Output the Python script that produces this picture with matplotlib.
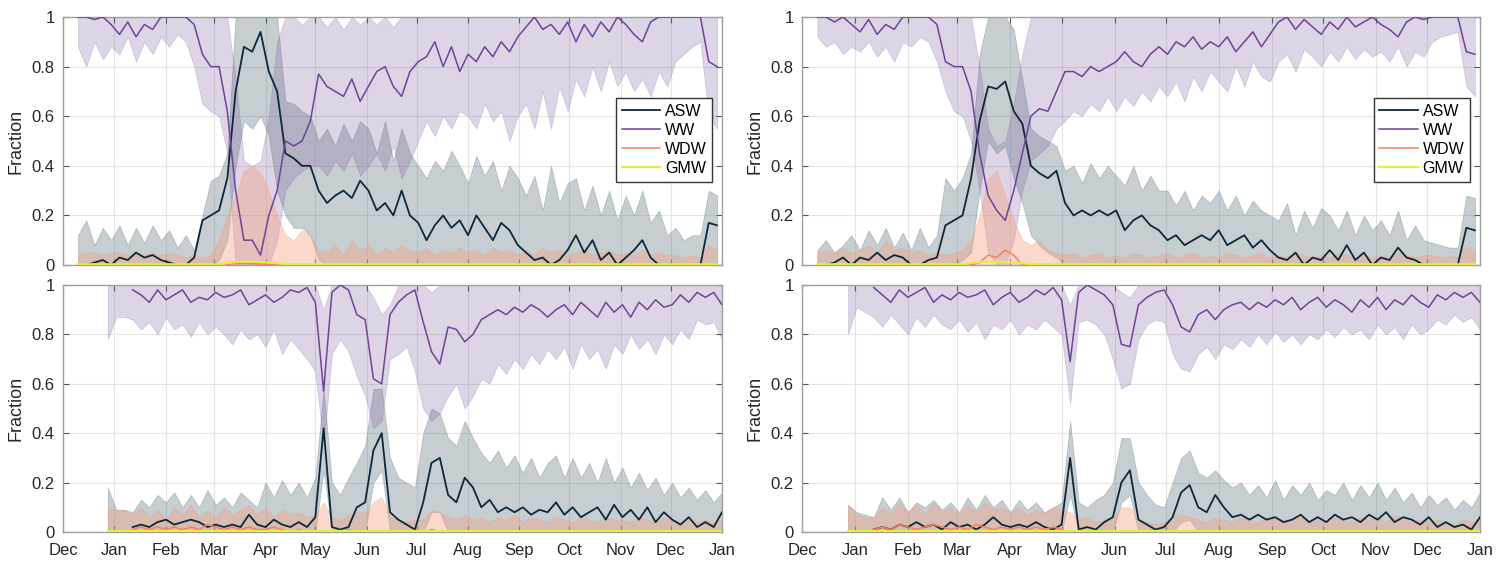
import numpy as np
import pandas as pd
import matplotlib
matplotlib.use('Agg')
import matplotlib.pyplot as plt
import matplotlib.dates as mdates

plt.rcParams['font.family'] = ['Liberation Sans', 'DejaVu Sans']
nan = np.nan

# sample dates (every 5 days)
top_days = pd.date_range('2019-12-10', periods=78, freq='5D')
bot_days = pd.date_range('2019-12-28', periods=75, freq='5D')

# ---------------- top left ----------------
tl_asw = [0.0, 0.0, 0.01, 0.02, 0.0,
          0.03, 0.02, 0.05, 0.03, 0.04, 0.02,
          0.01, 0.0, 0.0, 0.03, 0.18, 0.2,
          0.22, 0.35, 0.7, 0.88, 0.86, 0.94,
          0.78, 0.7, 0.45, 0.43, 0.4, 0.4,
          0.3, 0.25, 0.28, 0.3, 0.27, 0.34,
          0.3, 0.22, 0.25, 0.2, 0.3, 0.2,
          0.17, 0.1, 0.16, 0.2, 0.15, 0.18,
          0.12, 0.2, 0.15, 0.1, 0.17, 0.14, 0.08,
          0.05, 0.02, 0.03, 0.0, 0.02, 0.06,
          0.12, 0.05, 0.1, 0.02, 0.05, 0.0,
          0.03, 0.06, 0.1, 0.03, 0.0, 0.0,
          0.0, 0.0, 0.0, 0.0, 0.17, 0.16]
tl_asw_hi = [0.12, 0.18, 0.08, 0.15, 0.1,
             0.16, 0.08, 0.15, 0.09, 0.16, 0.1,
             0.14, 0.07, 0.12, 0.06, 0.2, 0.34,
             0.36, 0.45, 1.0, 1.0, 1.0, 1.0,
             1.0, 1.0, 0.66, 0.65, 0.62, 0.6,
             0.5, 0.55, 0.48, 0.57, 0.5, 0.58,
             0.55, 0.45, 0.58, 0.42, 0.55, 0.45,
             0.4, 0.35, 0.42, 0.38, 0.46, 0.4,
             0.33, 0.44, 0.36, 0.42, 0.3, 0.4, 0.35,
             0.28, 0.36, 0.22, 0.4, 0.25, 0.33,
             0.35, 0.22, 0.32, 0.2, 0.3, 0.18,
             0.28, 0.2, 0.3, 0.17, 0.22, 0.12,
             0.15, 0.1, 0.12, 0.12, 0.3, 0.28]
tl_asw_lo = [0, 0, 0, 0, 0,
             0, 0, 0, 0, 0, 0,
             0, 0, 0, 0, 0, 0,
             0.02, 0.1, 0.4, 0.58, 0.55, 0.6,
             0.52, 0.3, 0.2, 0.15, 0.15, 0.12,
             0.02, 0, 0, 0, 0, 0,
             0, 0, 0, 0, 0, 0,
             0, 0, 0, 0, 0, 0,
             0, 0, 0, 0, 0, 0, 0,
             0, 0, 0, 0, 0, 0,
             0, 0, 0, 0, 0, 0,
             0, 0, 0, 0, 0, 0,
             0, 0, 0, 0, 0, 0]
tl_ww = [1.0, 1.0, 0.99, 1.0, 0.97,
         0.93, 0.98, 0.92, 0.97, 0.95, 1.0,
         1.0, 1.0, 1.0, 0.97, 0.85, 0.8,
         0.8, 0.62, 0.3, 0.1, 0.1, 0.04,
         0.2, 0.3, 0.5, 0.48, 0.5, 0.58,
         0.77, 0.72, 0.7, 0.68, 0.75, 0.66,
         0.72, 0.78, 0.8, 0.72, 0.68, 0.78,
         0.82, 0.84, 0.9, 0.8, 0.88, 0.78,
         0.85, 0.82, 0.88, 0.84, 0.9, 0.86, 0.92,
         0.96, 1.0, 0.95, 0.97, 0.93, 0.98,
         0.9, 0.97, 0.92, 0.98, 0.94, 1.0,
         0.97, 0.93, 0.9, 0.98, 1.0, 1.0,
         1.0, 1.0, 1.0, 1.0, 0.82, 0.8]
tl_ww_hi = [1, 1, 1, 1, 1,
            1, 1, 1, 1, 1, 1,
            1, 1, 1, 1, 1, 1,
            1, 1, 0.75, 0.42, 0.4, 0.42,
            0.6, 0.9, 1, 1, 0.97, 1,
            1, 0.96, 1, 0.95, 1, 0.97,
            1, 0.97, 1, 0.96, 1, 1,
            1, 1, 1, 1, 1, 1,
            1, 1, 1, 1, 1, 1, 1,
            1, 1, 1, 1, 1, 1,
            1, 1, 1, 1, 1, 1,
            1, 1, 1, 1, 1, 1,
            1, 1, 1, 1, 1, 1]
tl_ww_lo = [0.88, 0.8, 0.9, 0.83, 0.88,
            0.85, 0.92, 0.82, 0.9, 0.85, 0.92,
            0.88, 0.93, 0.9, 0.8, 0.65, 0.62,
            0.6, 0.45, 0.0, 0.0, 0.0, 0.0,
            0.0, 0.1, 0.3, 0.35, 0.38, 0.4,
            0.4, 0.36, 0.42, 0.38, 0.45, 0.36,
            0.4, 0.45, 0.38, 0.48, 0.35, 0.42,
            0.5, 0.58, 0.52, 0.6, 0.55, 0.62,
            0.6, 0.55, 0.65, 0.58, 0.62, 0.5, 0.6,
            0.65, 0.55, 0.7, 0.55, 0.72, 0.62,
            0.75, 0.68, 0.8, 0.7, 0.82, 0.72,
            0.78, 0.7, 0.75, 0.68, 0.78, 0.72,
            0.82, 0.85, 0.88, 0.9, 0.6, 0.55]
tl_wdw = [0, 0, 0, 0, 0,
          0, 0, 0, 0, 0, 0,
          0, 0, 0, 0, 0, 0,
          0, 0.003, 0.005, 0.006, 0.005, 0.004,
          0.003, 0.002, 0, 0, 0, 0,
          0, 0, 0, 0, 0, 0,
          0, 0, 0, 0, 0, 0,
          0, 0, 0, 0, 0, 0,
          0, 0, 0, 0, 0, 0, 0,
          0, 0, 0, 0, 0, 0,
          0, 0, 0, 0, 0, 0,
          0, 0, 0, 0, 0, 0,
          0, 0, 0, 0, 0, 0]
tl_wdw_hi = [0.04, 0.05, 0.05, 0.04, 0.05,
             0.05, 0.04, 0.05, 0.04, 0.05, 0.04,
             0.05, 0.04, 0.03, 0.04, 0.03, 0.04,
             0.1, 0.2, 0.28, 0.38, 0.4, 0.37,
             0.3, 0.2, 0.12, 0.1, 0.14, 0.12,
             0.06, 0.05, 0.08, 0.04, 0.1, 0.06,
             0.08, 0.04, 0.07, 0.05, 0.08, 0.06,
             0.05, 0.07, 0.04, 0.06, 0.05, 0.07,
             0.05, 0.06, 0.04, 0.07, 0.05, 0.06, 0.04,
             0.06, 0.04, 0.07, 0.05, 0.06, 0.04,
             0.05, 0.06, 0.04, 0.05, 0.06, 0.04,
             0.05, 0.04, 0.06, 0.04, 0.05, 0.04,
             0.04, 0.03, 0.04, 0.03, 0.08, 0.06]

# ---------------- top right ----------------
tr_asw = [0.0, 0.0, 0.01, 0.03, 0.0,
          0.03, 0.02, 0.05, 0.02, 0.04, 0.03,
          0.0, 0.0, 0.02, 0.03, 0.16, 0.18,
          0.2, 0.35, 0.58, 0.72, 0.71, 0.74,
          0.62, 0.57, 0.4, 0.37, 0.35, 0.38,
          0.25, 0.2, 0.22, 0.2, 0.22, 0.2,
          0.22, 0.14, 0.18, 0.2, 0.16, 0.14,
          0.1, 0.12, 0.08, 0.1, 0.12, 0.1,
          0.14, 0.08, 0.1, 0.12, 0.07, 0.1, 0.06,
          0.03, 0.02, 0.05, 0.0, 0.03, 0.02,
          0.06, 0.02, 0.08, 0.02, 0.05, 0.0,
          0.03, 0.02, 0.07, 0.03, 0.02, 0.0,
          0.0, 0.0, 0.0, 0.0, 0.15, 0.14]
tr_asw_hi = [0.06, 0.1, 0.05, 0.08, 0.12,
             0.06, 0.14, 0.08, 0.15, 0.07, 0.13,
             0.06, 0.15, 0.07, 0.12, 0.35, 0.3,
             0.35, 0.45, 0.85, 1.0, 1.0, 1.0,
             0.95, 0.75, 0.55, 0.52, 0.5, 0.48,
             0.38, 0.4, 0.33, 0.41, 0.35, 0.4,
             0.36, 0.32, 0.4, 0.3, 0.36, 0.3,
             0.3, 0.24, 0.3, 0.22, 0.28, 0.25,
             0.3, 0.22, 0.28, 0.2, 0.26, 0.22, 0.2,
             0.18, 0.25, 0.12, 0.22, 0.15, 0.23,
             0.2, 0.14, 0.22, 0.12, 0.2, 0.14,
             0.18, 0.12, 0.22, 0.1, 0.16, 0.1,
             0.09, 0.08, 0.07, 0.07, 0.28, 0.27]
tr_asw_lo = [0, 0, 0, 0, 0,
             0, 0, 0, 0, 0, 0,
             0, 0, 0, 0, 0, 0,
             0.02, 0.05, 0.3, 0.5, 0.45, 0.48,
             0.35, 0.25, 0.12, 0.08, 0.05, 0.03,
             0, 0, 0, 0, 0, 0,
             0, 0, 0, 0, 0, 0,
             0, 0, 0, 0, 0, 0,
             0, 0, 0, 0, 0, 0, 0,
             0, 0, 0, 0, 0, 0,
             0, 0, 0, 0, 0, 0,
             0, 0, 0, 0, 0, 0,
             0, 0, 0, 0, 0, 0]
tr_ww = [1.0, 1.0, 0.98, 1.0, 0.97,
         0.94, 0.99, 0.93, 0.97, 0.95, 1.0,
         1.0, 1.0, 1.0, 0.97, 0.82, 0.8,
         0.8, 0.7, 0.45, 0.28, 0.22, 0.18,
         0.3, 0.45, 0.6, 0.63, 0.62, 0.7,
         0.78, 0.78, 0.76, 0.8, 0.78, 0.8,
         0.82, 0.86, 0.82, 0.8, 0.85, 0.88,
         0.85, 0.9, 0.88, 0.92, 0.87, 0.9,
         0.88, 0.92, 0.86, 0.9, 0.94, 0.88, 0.93,
         0.98, 1.0, 0.95, 0.99, 0.96, 0.93,
         0.98, 0.95, 1.0, 0.96, 0.98, 1.0,
         0.97, 0.95, 0.92, 0.98, 1.0, 0.99,
         1.0, 1.0, 1.0, 1.0, 0.86, 0.85]
tr_ww_hi = [1, 1, 1, 1, 1,
            1, 1, 1, 1, 1, 1,
            1, 1, 1, 1, 1, 1,
            1, 1, 0.8, 0.55, 0.48, 0.5,
            0.65, 0.85, 1, 1, 1, 1,
            1, 1, 1, 1, 1, 1,
            1, 1, 1, 1, 1, 1,
            1, 1, 1, 1, 1, 1,
            1, 1, 1, 1, 1, 1, 1,
            1, 1, 1, 1, 1, 1,
            1, 1, 1, 1, 1, 1,
            1, 1, 1, 1, 1, 1,
            1, 1, 1, 1, 1, 1]
tr_ww_lo = [0.92, 0.88, 0.9, 0.85, 0.88,
            0.86, 0.9, 0.84, 0.88, 0.82, 0.9,
            0.88, 0.92, 0.9, 0.82, 0.7, 0.62,
            0.6, 0.5, 0.3, 0.05, 0.0, 0.0,
            0.1, 0.3, 0.42, 0.45, 0.48, 0.55,
            0.58, 0.62, 0.6, 0.65, 0.62, 0.68,
            0.62, 0.68, 0.64, 0.7, 0.66, 0.72,
            0.68, 0.74, 0.66, 0.76, 0.7, 0.78,
            0.74, 0.7, 0.8, 0.72, 0.82, 0.76, 0.74,
            0.82, 0.85, 0.78, 0.87, 0.84, 0.8,
            0.86, 0.82, 0.88, 0.83, 0.87, 0.84,
            0.86, 0.82, 0.88, 0.8, 0.86, 0.84,
            0.9, 0.92, 0.93, 0.94, 0.72, 0.68]
tr_wdw = [0, 0, 0, 0, 0,
          0, 0, 0, 0, 0, 0,
          0, 0, 0, 0, 0, 0,
          0, 0, 0.01, 0.04, 0.03, 0.06,
          0.04, 0, 0, 0, 0, 0,
          0, 0, 0, 0, 0, 0,
          0, 0, 0, 0, 0, 0,
          0, 0, 0, 0, 0, 0,
          0, 0, 0, 0, 0, 0, 0,
          0, 0, 0, 0, 0, 0,
          0, 0, 0, 0, 0, 0,
          0, 0, 0, 0, 0, 0,
          0, 0, 0, 0, 0, 0]
tr_wdw_hi = [0.05, 0.06, 0.05, 0.07, 0.05,
             0.06, 0.08, 0.05, 0.1, 0.06, 0.07,
             0.05, 0.06, 0.04, 0.05, 0.04, 0.05,
             0.06, 0.1, 0.2, 0.35, 0.38, 0.28,
             0.18, 0.1, 0.08, 0.1, 0.06, 0.05,
             0.04, 0.05, 0.03, 0.04, 0.05, 0.03,
             0.04, 0.03, 0.05, 0.04, 0.03, 0.04,
             0.05, 0.03, 0.04, 0.05, 0.03, 0.04,
             0.03, 0.05, 0.04, 0.03, 0.04, 0.05, 0.03,
             0.04, 0.03, 0.05, 0.04, 0.03, 0.04,
             0.03, 0.05, 0.04, 0.03, 0.04, 0.03,
             0.04, 0.03, 0.05, 0.04, 0.03, 0.04,
             0.04, 0.03, 0.04, 0.03, 0.07, 0.06]
top_gmw = [0.003, 0.003, 0.003, 0.003, 0.003,
           0.003, 0.003, 0.003, 0.003, 0.003, 0.003,
           0.003, 0.003, 0.003, 0.003, 0.003, 0.003,
           0.003, 0.008, 0.012, 0.014, 0.013, 0.012,
           0.01, 0.007, 0.004, 0.003, 0.003, 0.003,
           0.003, 0.003, 0.003, 0.003, 0.003, 0.003,
           0.003, 0.003, 0.003, 0.003, 0.003, 0.003,
           0.003, 0.003, 0.003, 0.003, 0.003, 0.003,
           0.003, 0.003, 0.003, 0.003, 0.003, 0.003, 0.003,
           0.003, 0.003, 0.003, 0.003, 0.003, 0.003,
           0.003, 0.003, 0.003, 0.003, 0.003, 0.003,
           0.003, 0.003, 0.003, 0.003, 0.003, 0.003,
           0.003, 0.003, 0.003, 0.003, 0.003, 0.003]

# ---------------- bottom left ----------------
bl_asw = [0.02,
          nan, nan, 0.02, 0.03, 0.02, 0.04,
          0.05, 0.03, 0.04, 0.05, 0.04, 0.02,
          0.03, 0.02, 0.03, 0.02, 0.07, 0.03,
          0.02, 0.05, 0.03, 0.02, 0.04, 0.02,
          0.06, 0.42, 0.02, 0.01, 0.02, 0.1, 0.12,
          0.33, 0.4, 0.08, 0.05, 0.03, 0.01,
          0.12, 0.28, 0.3, 0.15, 0.12, 0.22,
          0.18, 0.1, 0.13, 0.08, 0.1, 0.08,
          0.1, 0.07, 0.09, 0.08, 0.12, 0.07,
          0.1, 0.06, 0.08, 0.1, 0.05, 0.11,
          0.06, 0.09, 0.05, 0.1, 0.04, 0.08,
          0.05, 0.03, 0.06, 0.02, 0.04, 0.02,
          0.08]
bl_asw_hi = [0.18,
             0.09, 0.09, 0.08, 0.13, 0.1, 0.15,
             0.12, 0.16, 0.1, 0.15, 0.1, 0.17,
             0.11, 0.14, 0.1, 0.16, 0.13, 0.1,
             0.2, 0.14, 0.21, 0.15, 0.2, 0.14,
             0.22, 0.58, 0.2, 0.15, 0.22, 0.28, 0.35,
             0.58, 0.58, 0.3, 0.22, 0.2, 0.18,
             0.4, 0.5, 0.48, 0.38, 0.35, 0.45,
             0.38, 0.32, 0.28, 0.33, 0.26, 0.31,
             0.24, 0.3, 0.22, 0.28, 0.31, 0.22,
             0.3, 0.22, 0.28, 0.2, 0.3, 0.2,
             0.26, 0.18, 0.24, 0.17, 0.22, 0.15,
             0.2, 0.14, 0.18, 0.13, 0.17, 0.12,
             0.16]
bl_asw_lo = [0,
             0, 0, 0, 0, 0, 0,
             0, 0, 0, 0, 0, 0,
             0, 0, 0, 0, 0, 0,
             0, 0, 0, 0, 0, 0,
             0, 0.25, 0, 0, 0, 0, 0,
             0.2, 0.25, 0, 0, 0, 0,
             0, 0.08, 0.08, 0, 0, 0,
             0, 0, 0, 0, 0, 0,
             0, 0, 0, 0, 0, 0,
             0, 0, 0, 0, 0, 0,
             0, 0, 0, 0, 0, 0,
             0, 0, 0, 0, 0, 0,
             0]
bl_ww = [0.94,
         nan, nan, 0.98, 0.96, 0.93, 0.98,
         0.94, 0.96, 0.98, 0.93, 0.95, 0.94,
         0.97, 0.95, 0.96, 0.98, 0.92, 0.94,
         0.96, 0.93, 0.95, 0.98, 0.97, 0.99,
         0.93, 0.57, 0.97, 1.0, 0.98, 0.88, 0.86,
         0.62, 0.6, 0.88, 0.93, 0.96, 0.98,
         0.85, 0.73, 0.68, 0.83, 0.82, 0.77,
         0.8, 0.86, 0.88, 0.9, 0.88, 0.91,
         0.89, 0.92, 0.9, 0.87, 0.9, 0.92,
         0.88, 0.93, 0.9, 0.87, 0.93, 0.89,
         0.92, 0.87, 0.93, 0.9, 0.94, 0.91,
         0.92, 0.96, 0.93, 0.97, 0.95, 0.97,
         0.92]
bl_ww_hi = [1,
            1, 1, 1, 1, 1, 1,
            1, 1, 1, 1, 1, 1,
            1, 1, 1, 1, 1, 1,
            1, 1, 1, 1, 1, 1,
            1, 0.9, 1, 1, 1, 1, 1,
            0.95, 0.88, 0.92, 1, 1, 1,
            1, 0.97, 1, 1, 1, 1,
            1, 1, 1, 1, 1, 1,
            1, 1, 1, 1, 1, 1,
            1, 1, 1, 1, 1, 1,
            1, 1, 1, 1, 1, 1,
            1, 1, 1, 1, 1, 1,
            1]
bl_ww_lo = [0.78,
            0.87, 0.87, 0.86, 0.82, 0.85, 0.8,
            0.87, 0.82, 0.84, 0.79, 0.85, 0.8,
            0.83, 0.8, 0.76, 0.82, 0.78, 0.8,
            0.75, 0.82, 0.72, 0.78, 0.74, 0.7,
            0.65, 0.35, 0.72, 0.78, 0.73, 0.63, 0.55,
            0.42, 0.45, 0.7, 0.72, 0.75, 0.65,
            0.5, 0.45, 0.48, 0.55, 0.6, 0.5,
            0.55, 0.62, 0.6, 0.68, 0.64, 0.7,
            0.66, 0.72, 0.68, 0.74, 0.7, 0.75,
            0.66, 0.76, 0.7, 0.74, 0.66, 0.76,
            0.72, 0.8, 0.74, 0.78, 0.72, 0.8,
            0.76, 0.82, 0.78, 0.86, 0.84, 0.85,
            0.78]
bl_wdw = [0.04,
          nan, nan, 0.01, 0.02, 0.01, 0.02,
          0.01, 0.02, 0.01, 0.02, 0.01, 0.03,
          0.02, 0.01, 0.02, 0.01, 0.02, 0.01,
          0.01, 0.02, 0.01, 0.0, 0.01, 0.0,
          0.0, 0.0, 0.0, 0.0, 0.01, 0.0, 0.0,
          0.0, 0.0, 0.0, 0.0, 0.0, 0.0,
          0.0, 0.01, 0.0, 0.0, 0.0, 0.0,
          0.0, 0.0, 0.0, 0.0, 0.0, 0.0,
          0.0, 0.0, 0.0, 0.0, 0.0, 0.0,
          0.0, 0.0, 0.0, 0.0, 0.0, 0.0,
          0.0, 0.0, 0.0, 0.0, 0.0, 0.0,
          0.0, 0.0, 0.0, 0.0, 0.0, 0.0,
          0.0]
bl_wdw_hi = [0.1,
             0.09, 0.09, 0.07, 0.1, 0.06, 0.09,
             0.05, 0.1, 0.07, 0.11, 0.06, 0.09,
             0.06, 0.1, 0.07, 0.09, 0.11, 0.07,
             0.1, 0.06, 0.09, 0.07, 0.08, 0.06,
             0.07, 0.12, 0.06, 0.05, 0.07, 0.08, 0.08,
             0.12, 0.14, 0.06, 0.05, 0.04, 0.05,
             0.05, 0.09, 0.08, 0.06, 0.05, 0.07,
             0.05, 0.06, 0.04, 0.06, 0.05, 0.07,
             0.04, 0.06, 0.05, 0.04, 0.06, 0.05,
             0.04, 0.06, 0.05, 0.04, 0.06, 0.05,
             0.05, 0.04, 0.06, 0.05, 0.04, 0.06,
             0.05, 0.04, 0.05, 0.04, 0.05, 0.04,
             0.05]

# ---------------- bottom right ----------------
br_asw = [0.03,
          nan, nan, 0.01, 0.02, 0.01, 0.03,
          0.02, 0.04, 0.02, 0.03, 0.01, 0.04,
          0.02, 0.03, 0.01, 0.03, 0.06, 0.03,
          0.02, 0.03, 0.02, 0.04, 0.02, 0.01,
          0.03, 0.3, 0.01, 0.02, 0.01, 0.04, 0.06,
          0.2, 0.25, 0.05, 0.03, 0.01, 0.02,
          0.06, 0.16, 0.19, 0.1, 0.08, 0.15,
          0.1, 0.06, 0.07, 0.05, 0.07, 0.05,
          0.06, 0.04, 0.05, 0.07, 0.04, 0.06,
          0.04, 0.07, 0.05, 0.06, 0.04, 0.07,
          0.05, 0.08, 0.04, 0.06, 0.05, 0.03,
          0.06, 0.02, 0.04, 0.02, 0.03, 0.01,
          0.06]
br_asw_hi = [0.11,
             0.08, 0.07, 0.06, 0.14, 0.09, 0.14,
             0.08, 0.12, 0.1, 0.13, 0.09, 0.12,
             0.08, 0.14, 0.09, 0.15, 0.1, 0.13,
             0.08, 0.13, 0.09, 0.12, 0.08, 0.1,
             0.12, 0.45, 0.12, 0.1, 0.13, 0.15, 0.2,
             0.38, 0.38, 0.2, 0.15, 0.11, 0.1,
             0.2, 0.3, 0.33, 0.24, 0.22, 0.25,
             0.21, 0.18, 0.2, 0.15, 0.19, 0.14,
             0.21, 0.13, 0.19, 0.15, 0.2, 0.13,
             0.17, 0.15, 0.2, 0.13, 0.19, 0.14,
             0.2, 0.13, 0.18, 0.12, 0.16, 0.1,
             0.15, 0.11, 0.14, 0.09, 0.13, 0.1,
             0.16]
br_asw_lo = [0,
             0, 0, 0, 0, 0, 0,
             0, 0, 0, 0, 0, 0,
             0, 0, 0, 0, 0, 0,
             0, 0, 0, 0, 0, 0,
             0, 0.15, 0, 0, 0, 0, 0,
             0.12, 0.15, 0, 0, 0, 0,
             0, 0.04, 0.05, 0, 0, 0,
             0, 0, 0, 0, 0, 0,
             0, 0, 0, 0, 0, 0,
             0, 0, 0, 0, 0, 0,
             0, 0, 0, 0, 0, 0,
             0, 0, 0, 0, 0, 0,
             0]
br_ww = [0.94,
         nan, nan, 0.99, 0.96, 0.93, 0.98,
         0.95, 0.97, 0.99, 0.93, 0.96, 0.94,
         0.97, 0.95, 0.96, 0.98, 0.92, 0.95,
         0.97, 0.93, 0.95, 0.98, 0.96, 0.99,
         0.94, 0.69, 0.97, 1.0, 0.98, 0.96, 0.92,
         0.76, 0.75, 0.92, 0.95, 0.97, 0.98,
         0.92, 0.83, 0.81, 0.88, 0.9, 0.86,
         0.9, 0.92, 0.93, 0.9, 0.93, 0.91,
         0.94, 0.92, 0.95, 0.9, 0.93, 0.95,
         0.91, 0.94, 0.92, 0.89, 0.94, 0.91,
         0.95, 0.9, 0.94, 0.92, 0.96, 0.93,
         0.91, 0.96, 0.94, 0.97, 0.95, 0.97,
         0.93]
br_ww_hi = [1,
            1, 1, 1, 1, 1, 1,
            1, 1, 1, 1, 1, 1,
            1, 1, 1, 1, 1, 1,
            1, 1, 1, 1, 1, 1,
            1, 0.92, 1, 1, 1, 1, 1,
            0.97, 0.95, 1, 1, 1, 1,
            1, 1, 1, 1, 1, 1,
            1, 1, 1, 1, 1, 1,
            1, 1, 1, 1, 1, 1,
            1, 1, 1, 1, 1, 1,
            1, 1, 1, 1, 1, 1,
            1, 1, 1, 1, 1, 1,
            1]
br_ww_lo = [0.8,
            0.91, 0.89, 0.87, 0.83, 0.88, 0.84,
            0.8, 0.87, 0.83, 0.88, 0.84, 0.82,
            0.86, 0.81, 0.85, 0.78, 0.84, 0.82,
            0.86, 0.8, 0.84, 0.82, 0.86, 0.83,
            0.8, 0.52, 0.85, 0.86, 0.84, 0.8, 0.7,
            0.58, 0.6, 0.78, 0.84, 0.86, 0.85,
            0.72, 0.66, 0.65, 0.72, 0.75, 0.7,
            0.76, 0.74, 0.78, 0.75, 0.8, 0.76,
            0.81, 0.77, 0.8, 0.76, 0.8, 0.78,
            0.82, 0.79, 0.83, 0.8, 0.82, 0.78,
            0.84, 0.8, 0.83, 0.78, 0.84, 0.8,
            0.82, 0.86, 0.84, 0.88, 0.85, 0.87,
            0.82]
br_wdw = [0.04,
          nan, nan, 0.01, 0.02, 0.01, 0.03,
          0.02, 0.01, 0.02, 0.03, 0.02, 0.01,
          0.02, 0.01, 0.03, 0.02, 0.01, 0.02,
          0.01, 0.02, 0.01, 0.02, 0.01, 0.02,
          0.01, 0.0, 0.0, 0.0, 0.0, 0.0, 0.0,
          0.0, 0.0, 0.0, 0.0, 0.0, 0.0,
          0.0, 0.0, 0.0, 0.0, 0.0, 0.0,
          0.0, 0.0, 0.0, 0.0, 0.0, 0.0,
          0.0, 0.0, 0.0, 0.0, 0.0, 0.0,
          0.0, 0.0, 0.0, 0.0, 0.0, 0.0,
          0.0, 0.0, 0.0, 0.0, 0.0, 0.0,
          0.0, 0.0, 0.0, 0.0, 0.0, 0.0,
          0.0]
br_wdw_hi = [0.11,
             0.07, 0.06, 0.06, 0.1, 0.07, 0.12,
             0.08, 0.11, 0.07, 0.12, 0.08, 0.1,
             0.07, 0.11, 0.08, 0.12, 0.09, 0.1,
             0.08, 0.1, 0.07, 0.09, 0.08, 0.1,
             0.09, 0.08, 0.05, 0.06, 0.04, 0.05, 0.06,
             0.1, 0.1, 0.05, 0.04, 0.03, 0.04,
             0.06, 0.07, 0.06, 0.05, 0.04, 0.06,
             0.05, 0.04, 0.06, 0.05, 0.04, 0.06,
             0.05, 0.04, 0.05, 0.06, 0.04, 0.05,
             0.04, 0.06, 0.05, 0.04, 0.06, 0.05,
             0.06, 0.04, 0.07, 0.05, 0.04, 0.05,
             0.04, 0.05, 0.04, 0.03, 0.05, 0.04,
             0.05]
bot_gmw = [0.003,
           0.003, 0.003, 0.003, 0.003, 0.003, 0.003,
           0.003, 0.003, 0.003, 0.003, 0.003, 0.003,
           0.003, 0.003, 0.003, 0.003, 0.003, 0.003,
           0.003, 0.003, 0.003, 0.003, 0.003, 0.003,
           0.003, 0.003, 0.003, 0.003, 0.003, 0.003, 0.003,
           0.003, 0.003, 0.003, 0.003, 0.003, 0.003,
           0.003, 0.003, 0.003, 0.003, 0.003, 0.003,
           0.003, 0.003, 0.003, 0.003, 0.003, 0.003,
           0.003, 0.003, 0.003, 0.003, 0.003, 0.003,
           0.003, 0.003, 0.003, 0.003, 0.003, 0.003,
           0.003, 0.003, 0.003, 0.003, 0.003, 0.003,
           0.003, 0.003, 0.003, 0.003, 0.003, 0.003,
           0.003]

# colours
c_asw = '#0e2738'
c_asw_band = '#5c7580'
c_ww = '#6e4496'
c_ww_band = '#7b5a9e'
c_wdw = '#f3805e'
c_wdw_band = '#f4a080'
c_gmw = '#e3ee3a'


def draw(ax, days, asw, asw_lo, asw_hi, ww, ww_lo, ww_hi, wdw, wdw_hi, gmw):
    ax.fill_between(days, asw_lo, asw_hi, facecolor=c_asw_band, edgecolor=c_asw_band,
                    alpha=0.35, lw=0.6, zorder=2)
    ax.fill_between(days, ww_lo, ww_hi, facecolor=c_ww_band, edgecolor=c_ww_band,
                    alpha=0.25, lw=0.6, zorder=2)
    ax.fill_between(days, 0, wdw_hi, facecolor=c_wdw_band, edgecolor=c_wdw_band,
                    alpha=0.4, lw=0.6, zorder=2)
    h1, = ax.plot(days, asw, color=c_asw, lw=1.3, zorder=4, label='ASW')
    h2, = ax.plot(days, ww, color=c_ww, lw=1.1, zorder=4, label='WW')
    h3, = ax.plot(days, wdw, color=c_wdw, lw=1.1, zorder=4, label='WDW')
    h4, = ax.plot(days, gmw, color=c_gmw, lw=1.6, zorder=4, label='GMW')
    return [h1, h2, h3, h4]


fig = plt.figure(figsize=(15.07, 5.63), dpi=100)
W, H = 1507, 563
boxes = [(63, 17, 659, 248), (802, 17, 678, 248),
         (63, 285, 659, 247), (802, 285, 678, 247)]
axes = [fig.add_axes([x / W, 1 - (y + h) / H, w / W, h / H]) for x, y, w, h in boxes]

handles = draw(axes[0], top_days, tl_asw, tl_asw_lo, tl_asw_hi, tl_ww, tl_ww_lo, tl_ww_hi,
               tl_wdw, tl_wdw_hi, top_gmw)
draw(axes[1], top_days, tr_asw, tr_asw_lo, tr_asw_hi, tr_ww, tr_ww_lo, tr_ww_hi,
     tr_wdw, tr_wdw_hi, top_gmw)
draw(axes[2], bot_days, bl_asw, bl_asw_lo, bl_asw_hi, bl_ww, bl_ww_lo, bl_ww_hi,
     bl_wdw, bl_wdw_hi, bot_gmw)
draw(axes[3], bot_days, br_asw, br_asw_lo, br_asw_hi, br_ww, br_ww_lo, br_ww_hi,
     br_wdw, br_wdw_hi, bot_gmw)

for i, ax in enumerate(axes):
    ax.set_xlim(pd.Timestamp('2019-12-01'), pd.Timestamp('2021-01-01'))
    ax.set_ylim(0, 1)
    ax.set_yticks([0, 0.2, 0.4, 0.6, 0.8, 1])
    ax.set_yticklabels(['0', '0.2', '0.4', '0.6', '0.8', '1'])
    ax.xaxis.set_major_locator(mdates.MonthLocator())
    ax.xaxis.set_major_formatter(mdates.DateFormatter('%b'))
    ax.grid(True, color='#e4e4e4', lw=0.8, zorder=0)
    ax.set_axisbelow(True)
    ax.tick_params(direction='in', length=4, width=0.8, color='#555555', top=True, right=True,
                   labelsize=12, labelcolor='#262626')
    ax.tick_params(axis='y', pad=6)
    ax.tick_params(axis='x', pad=8)
    for s in ax.spines.values():
        s.set_color('#a0a0a0')
        s.set_linewidth(1.0)
    ax.set_ylabel('Fraction', fontsize=13, color='#262626', labelpad=5)
    if i < 2:
        ax.tick_params(labelbottom=False)
        ax.legend(handles=handles, loc='upper right', bbox_to_anchor=(0.985, 0.672),
                  fontsize=11.5, frameon=True, fancybox=False, framealpha=1,
                  edgecolor='#333333', handlelength=2.4, handletextpad=0.3,
                  borderpad=0.35, labelspacing=0.25, borderaxespad=0)

fig.savefig('out.png', dpi=100)
